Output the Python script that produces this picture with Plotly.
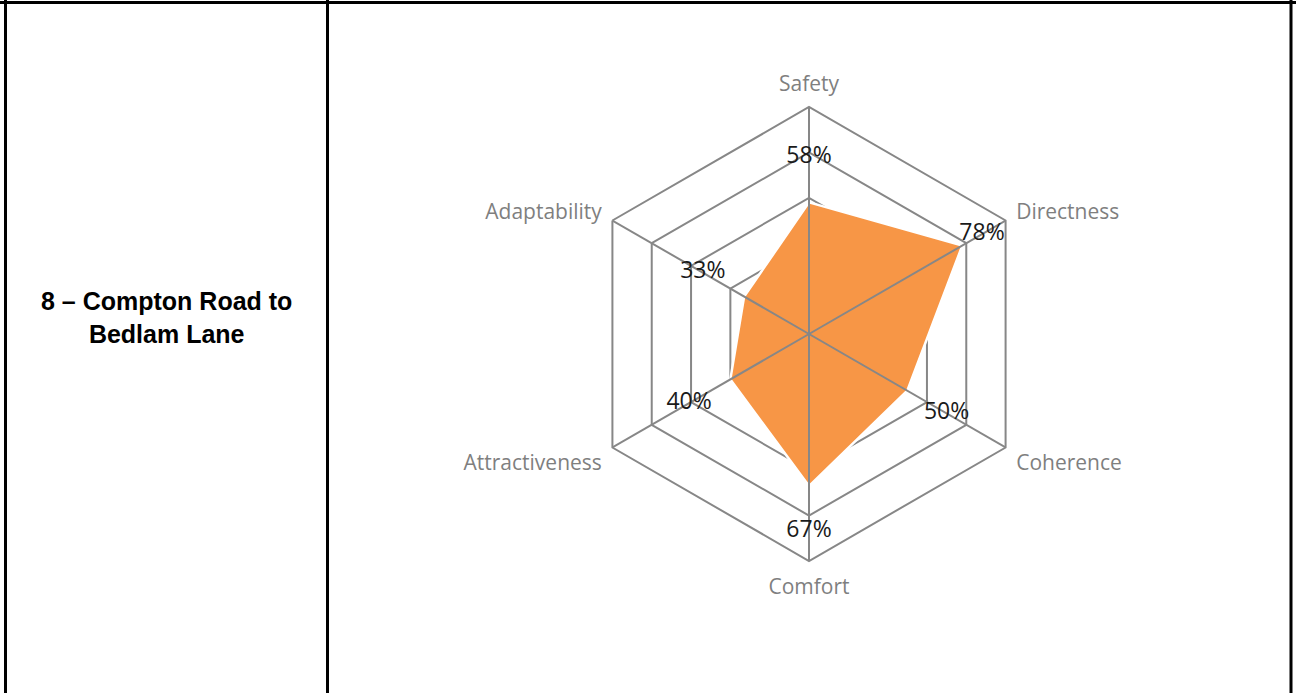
import plotly.graph_objects as go

categories = ["Safety", "Directness", "Coherence", "Comfort", "Attractiveness", "Adaptability"]
values = [0.58, 0.78, 0.50, 0.67, 0.40, 0.33]
value_labels = ["58%", "78%", "50%", "67%", "40%", "33%"]
row_title = "8 – Compton Road to<br>Bedlam Lane"

W, H = 1296, 693
cx, cy, R = 809, 334, 227
# radial offset of each data label from its point (style)
label_offsets = [0.20, 0.10, 0.20, 0.20, 0.21, 0.21]

GRID = "#878787"

fig = go.Figure()

# filled series
fig.add_trace(go.Scatterpolar(
    r=values + values[:1], theta=categories + categories[:1],
    mode="lines", fill="toself", fillcolor="#F79646",
    line=dict(color="white", width=2.5), hoverinfo="skip", showlegend=False))

# spokes drawn above the fill
for c in categories:
    fig.add_trace(go.Scatterpolar(
        r=[0, 1], theta=[c, c], mode="lines",
        line=dict(color=GRID, width=2), hoverinfo="skip", showlegend=False))

# data labels
fig.add_trace(go.Scatterpolar(
    r=[v + o for v, o in zip(values, label_offsets)], theta=categories, mode="text",
    text=value_labels, textfont=dict(family="Open Sans", size=23, color="#1a1a1a"),
    hoverinfo="skip", showlegend=False))

fig.update_layout(
    width=W, height=H,
    margin=dict(l=0, r=0, t=0, b=0),
    paper_bgcolor="white", plot_bgcolor="white",
    polar=dict(
        domain=dict(x=[(cx - R) / W, (cx + R) / W],
                    y=[(H - cy - R) / H, (H - cy + R) / H]),
        bgcolor="white",
        gridshape="linear",
        radialaxis=dict(range=[0, 1], dtick=0.2, tick0=0, showticklabels=False,
                        ticks="", showline=False, gridcolor=GRID, gridwidth=2),
        angularaxis=dict(rotation=90, direction="clockwise",
                         categoryorder="array", categoryarray=categories,
                         showgrid=False, showline=True, linecolor=GRID, linewidth=2,
                         ticks="outside", ticklen=7, tickcolor="rgba(0,0,0,0)",
                         tickfont=dict(family="Open Sans", size=21, color="#7f7f7f")),
    ),
    shapes=[
        dict(type="line", xref="paper", yref="paper", x0=0, x1=1,
             y0=1 - 2.5 / H, y1=1 - 2.5 / H, line=dict(color="black", width=3)),
        dict(type="line", xref="paper", yref="paper", x0=5.5 / W, x1=5.5 / W,
             y0=0, y1=1, line=dict(color="black", width=3)),
        dict(type="line", xref="paper", yref="paper", x0=327.5 / W, x1=327.5 / W,
             y0=0, y1=1, line=dict(color="black", width=3)),
        dict(type="line", xref="paper", yref="paper", x0=1291 / W, x1=1291 / W,
             y0=0, y1=1, line=dict(color="black", width=3)),
    ],
    annotations=[
        dict(xref="paper", yref="paper", x=166 / W, y=1 - 317 / H,
             text="<b>" + row_title + "</b>", showarrow=False, align="center",
             font=dict(family="Liberation Sans, Arial", size=25, color="black"),
             xanchor="center", yanchor="middle"),
    ],
)

fig.write_html("out.html", config={"displayModeBar": False},
               post_script="document.body.style.margin='0px';")
